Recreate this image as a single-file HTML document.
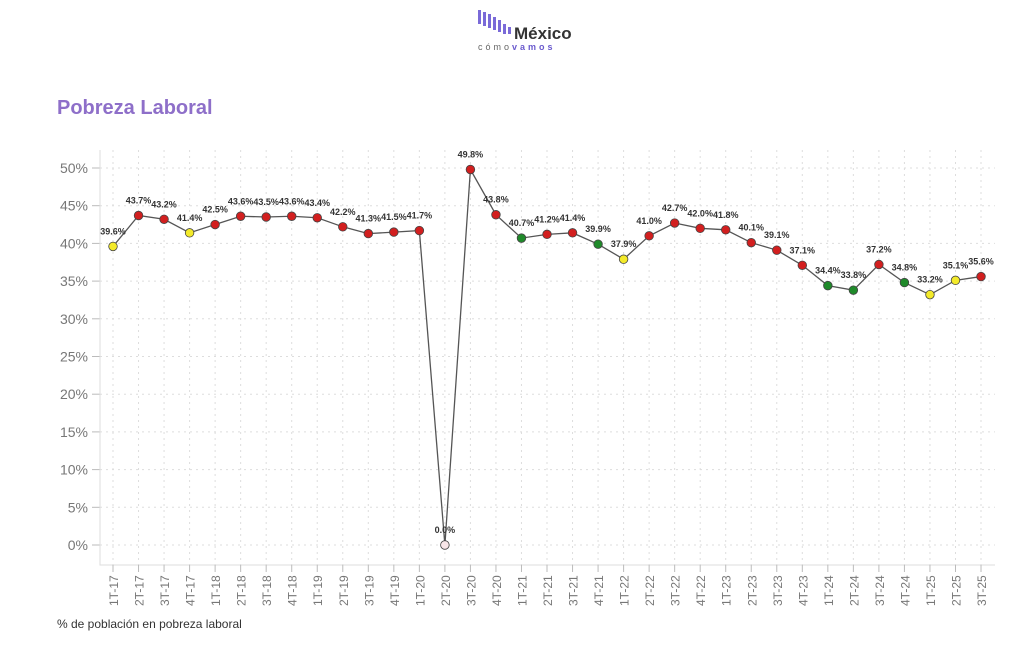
<!DOCTYPE html>
<html><head><meta charset="utf-8"><style>
body{margin:0;width:1024px;height:658px;background:#fff;overflow:hidden;font-family:"Liberation Sans",sans-serif}
</style></head><body>
<svg width="1024" height="658" xmlns="http://www.w3.org/2000/svg" id="s">
<g fill="#7a6ad8">
<rect x="478" y="10" width="3" height="14"/><rect x="483" y="12" width="3" height="14"/><rect x="488" y="14" width="3" height="14"/><rect x="493" y="17" width="3" height="13"/><rect x="498" y="20" width="3" height="12"/><rect x="503" y="24" width="3" height="10"/><rect x="508" y="27" width="3" height="7"/>
</g>
<text x="514" y="39" font-size="17" font-weight="bold" fill="#333">México</text>
<text x="478" y="50" font-size="9" fill="#666" letter-spacing="3">cómo<tspan fill="#6a5acd" font-weight="bold">vamos</tspan></text>
<text x="57" y="114" font-size="20" font-weight="bold" fill="#8e6fc9">Pobreza Laboral</text>
<text x="57" y="628" font-size="12" fill="#333">% de población en pobreza laboral</text>
<g id="g"></g>
</svg>
<script>
var d=[[39.6,'Y'],[43.7,'R'],[43.2,'R'],[41.4,'Y'],[42.5,'R'],[43.6,'R'],[43.5,'R'],[43.6,'R'],[43.4,'R'],[42.2,'R'],[41.3,'R'],[41.5,'R'],[41.7,'R'],[0,'P'],[49.8,'R'],[43.8,'R'],[40.7,'G'],[41.2,'R'],[41.4,'R'],[39.9,'G'],[37.9,'Y'],[41.0,'R'],[42.7,'R'],[42.0,'R'],[41.8,'R'],[40.1,'R'],[39.1,'R'],[37.1,'R'],[34.4,'G'],[33.8,'G'],[37.2,'R'],[34.8,'G'],[33.2,'Y'],[35.1,'Y'],[35.6,'R']];
var labs=[];for(var y=17;y<=25;y++)for(var q=1;q<=4;q++){if(y==25&&q==4)break;labs.push(q+'T-'+y);}
var X=function(i){return 113+i*25.53},Y=function(v){return 545-v*7.54};
var h='';
for(var i=0;i<35;i++)h+='<line x1="'+X(i)+'" y1="150" x2="'+X(i)+'" y2="565" stroke="#ddd" stroke-dasharray="2,4"/>';
for(var v=0;v<=50;v+=5){h+='<line x1="100" y1="'+Y(v)+'" x2="995" y2="'+Y(v)+'" stroke="#ddd" stroke-dasharray="2,4"/><line x1="92" y1="'+Y(v)+'" x2="100" y2="'+Y(v)+'" stroke="#bbb"/><text x="88" y="'+(Y(v)+5)+'" font-size="14" fill="#777" text-anchor="end">'+v+'%</text>';}
h+='<polyline points="100,150 100,565 995,565" fill="none" stroke="#ddd"/>';
for(var i=0;i<35;i++){h+='<line x1="'+X(i)+'" y1="565" x2="'+X(i)+'" y2="572" stroke="#bbb"/><text transform="translate('+(X(i)+5)+',606) rotate(-90)" font-size="12" fill="#777">'+labs[i]+'</text>';}
var p=d.map(function(e,i){return X(i)+','+Y(e[0])}).join(' ');
h+='<polyline points="'+p+'" fill="none" stroke="#555" stroke-width="1.3"/>';
var c={R:'#d21f1f',Y:'#f3ea2a',G:'#1f8a2a',P:'#f8e6e8'};
for(var i=0;i<35;i++){var e=d[i];h+='<circle cx="'+X(i)+'" cy="'+Y(e[0])+'" r="4.3" fill="'+c[e[1]]+'" stroke="#444" stroke-width="0.8"/>';
h+='<text x="'+X(i)+'" y="'+(Y(e[0])-12)+'" font-size="9" font-weight="bold" fill="#333" text-anchor="middle">'+e[0].toFixed(1)+'%</text>';}
document.getElementById('g').innerHTML=h;
</script>
</body></html>
